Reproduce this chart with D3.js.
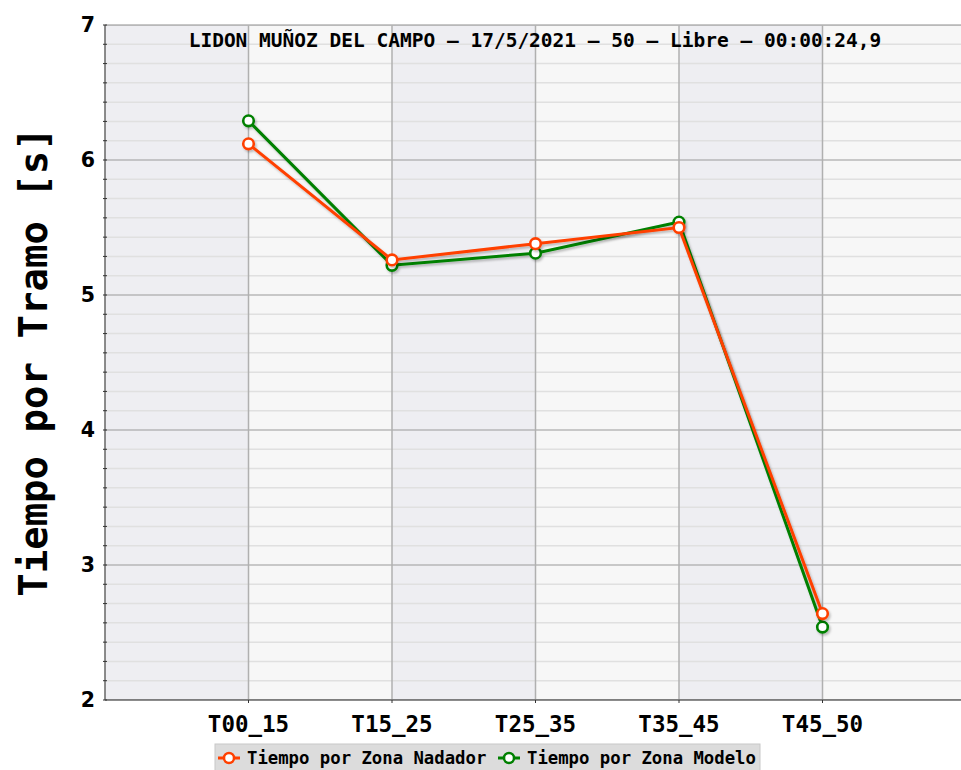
<!DOCTYPE html>
<html>
<head>
<meta charset="utf-8">
<script src="https://cdn.jsdelivr.net/npm/d3@7"></script>
<style>
  body { margin: 0; background: #fff; }
  svg { display: block; }
</style>
</head>
<body>
<script>
// chart data
var categories = ['T00_15', 'T15_25', 'T25_35', 'T35_45', 'T45_50'];
var nadador = [6.12, 5.26, 5.38, 5.50, 2.64];
var modelo = [6.29, 5.22, 5.31, 5.54, 2.54];
var seriesNames = ['Tiempo por Zona Nadador', 'Tiempo por Zona Modelo'];
var seriesColors = ['#ff4000', '#008000'];
var yTicks = [2, 3, 4, 5, 6, 7];
var titleText = 'LIDON MUÑOZ DEL CAMPO \u2013 17/5/2021 \u2013 50 \u2013 Libre \u2013 00:00:24,9';
var yTitle = 'Tiempo por Tramo [s]';

function generateViz() {
	var width = 961,
		height = 770;
	var left = 105, top = 25, right = 966, bottom = 700;

	var svg = d3.select('body').append('svg')
		.attr('width', width)
		.attr('height', height);

	var defs = svg.append('defs');
	defs.append('filter').attr('id', 'shadow')
		.attr('x', '-10%').attr('y', '-10%').attr('width', '130%').attr('height', '130%')
		.append('feDropShadow')
		.attr('dx', 1.5).attr('dy', 2).attr('stdDeviation', 1.2)
		.attr('flood-color', '#000').attr('flood-opacity', 0.25);
	defs.append('clipPath').attr('id', 'plotclip')
		.append('rect').attr('x', left).attr('y', top)
		.attr('width', right - left).attr('height', bottom - top);

	var x = d3.scalePoint().domain(categories).range([left, right]).padding(1);
	var y = d3.scaleLinear().domain([2, 7]).range([bottom, top]);
	var step = x.step();

	var plot = svg.append('g').attr('clip-path', 'url(#plotclip)');

	// alternating bands
	var bandIdx = d3.range(categories.length + 1);
	plot.selectAll('rect.band')
		.data(bandIdx)
		.enter().append('rect')
		.attr('class', 'band')
		.attr('x', function(i) { return left + i * step; })
		.attr('y', top)
		.attr('width', step)
		.attr('height', bottom - top)
		.attr('fill', function(i) { return i % 2 === 0 ? '#eeeef2' : '#f7f7f7'; });

	// minor horizontal gridlines (7 subdivisions)
	var minor = [];
	for (var v = 2; v < 7; v++) {
		for (var k = 1; k < 7; k++) minor.push(v + k / 7);
	}
	plot.selectAll('line.minor')
		.data(minor)
		.enter().append('line')
		.attr('x1', left).attr('x2', right)
		.attr('y1', function(d) { return y(d); })
		.attr('y2', function(d) { return y(d); })
		.attr('stroke', '#e0e0e0').attr('stroke-width', 1.5);

	// major horizontal gridlines
	plot.selectAll('line.major')
		.data(yTicks)
		.enter().append('line')
		.attr('x1', left).attr('x2', right)
		.attr('y1', function(d) { return y(d); })
		.attr('y2', function(d) { return y(d); })
		.attr('stroke', '#9a9a9a').attr('stroke-width', 1.2);

	// vertical gridlines
	plot.selectAll('line.vgrid')
		.data(categories)
		.enter().append('line')
		.attr('x1', function(d) { return x(d); })
		.attr('x2', function(d) { return x(d); })
		.attr('y1', top).attr('y2', bottom)
		.attr('stroke', '#b0b0b0').attr('stroke-width', 1.5);

	// frame
	svg.append('line').attr('x1', left).attr('x2', width).attr('y1', top).attr('y2', top)
		.attr('stroke', '#b4b4b4').attr('stroke-width', 1.5);
	svg.append('line').attr('x1', left).attr('x2', left).attr('y1', top).attr('y2', bottom)
		.attr('stroke', '#666').attr('stroke-width', 1.5);
	svg.append('line').attr('x1', left).attr('x2', width).attr('y1', bottom).attr('y2', bottom)
		.attr('stroke', '#666').attr('stroke-width', 1.5);

	// y minor ticks on the axis
	svg.selectAll('line.ytick')
		.data(minor.concat(yTicks))
		.enter().append('line')
		.attr('x1', left - 2).attr('x2', left + 2)
		.attr('y1', function(d) { return y(d); })
		.attr('y2', function(d) { return y(d); })
		.attr('stroke', '#333').attr('stroke-width', 1);
	// x ticks
	svg.selectAll('line.xtick')
		.data(categories)
		.enter().append('line')
		.attr('x1', function(d) { return x(d); })
		.attr('x2', function(d) { return x(d); })
		.attr('y1', bottom).attr('y2', bottom + 3)
		.attr('stroke', '#333').attr('stroke-width', 1);

	// y tick labels
	svg.selectAll('text.ylab')
		.data(yTicks)
		.enter().append('text')
		.attr('x', 95)
		.attr('y', function(d) { return y(d); })
		.attr('dy', '0.36em')
		.attr('text-anchor', 'end')
		.style('font-family', '"DejaVu Sans", sans-serif')
		.style('font-weight', 'bold')
		.style('font-size', '20.5px')
		.text(function(d) { return d; });

	// x tick labels
	svg.selectAll('text.xlab')
		.data(categories)
		.enter().append('text')
		.attr('x', function(d) { return x(d); })
		.attr('y', 732)
		.attr('text-anchor', 'middle')
		.style('font-family', '"DejaVu Sans Mono", monospace')
		.style('font-weight', 'bold')
		.style('font-size', '22.5px')
		.text(function(d) { return d; });

	// y title
	svg.append('text')
		.attr('transform', 'translate(47,362) rotate(-90)')
		.attr('text-anchor', 'middle')
		.style('font-family', '"DejaVu Sans Mono", monospace')
		.style('font-weight', 'bold')
		.style('font-size', '39px')
		.text(yTitle);

	// lines: modelo underneath, nadador on top
	var order = [1, 0];
	var series = [nadador, modelo];
	var line = d3.line()
		.x(function(d, i) { return x(categories[i]); })
		.y(function(d) { return y(d); });

	var sg = plot.selectAll('g.series')
		.data(order)
		.enter().append('g')
		.attr('filter', 'url(#shadow)');
	sg.append('path')
		.attr('d', function(s) { return line(series[s]); })
		.attr('fill', 'none')
		.attr('stroke', function(s) { return seriesColors[s]; })
		.attr('stroke-width', 3);
	sg.selectAll('circle')
		.data(function(s) { return series[s].map(function(v) { return { v: v, s: s }; }); })
		.enter().append('circle')
		.attr('cx', function(d, j) { return x(categories[j]); })
		.attr('cy', function(d) { return y(d.v); })
		.attr('r', 5.3)
		.attr('fill', '#fff')
		.attr('stroke', function(d) { return seriesColors[d.s]; })
		.attr('stroke-width', 2.6);

	// title
	svg.append('text')
		.attr('x', 535)
		.attr('y', 47)
		.attr('text-anchor', 'middle')
		.style('font-family', '"DejaVu Sans Mono", monospace')
		.style('font-weight', 'bold')
		.style('font-size', '19.5px')
		.text(titleText);

	// legend
	var legend = svg.append('g');
	legend.append('rect')
		.attr('x', 215).attr('y', 744)
		.attr('width', 545).attr('height', 40)
		.attr('fill', '#dcdcdc')
		.attr('stroke', '#c8c8c8');
	var legX = [218, 498];
	seriesNames.forEach(function(name, i) {
		var g = legend.append('g').attr('transform', 'translate(' + legX[i] + ',758)');
		g.append('line').attr('x1', 0).attr('x2', 22)
			.attr('stroke', seriesColors[i]).attr('stroke-width', 3);
		g.append('circle').attr('cx', 11).attr('r', 5)
			.attr('fill', '#fff')
			.attr('stroke', seriesColors[i]).attr('stroke-width', 2.5);
		g.append('text')
			.attr('x', 29).attr('y', 6)
			.style('font-family', '"DejaVu Sans Mono", monospace')
			.style('font-weight', 'bold')
			.style('font-size', '17.3px')
			.text(name);
	});
} // generateViz()

generateViz();
</script>
</body>
</html>
